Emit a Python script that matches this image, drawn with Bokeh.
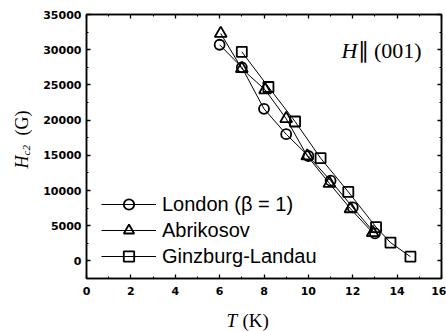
import math
from bokeh.plotting import figure
from bokeh.layouts import column, row
from bokeh.models import (Range1d, LinearAxis, SingleIntervalTicker, Label, Legend,
                          CustomJSTickFormatter)
from bokeh.embed import file_html
from bokeh.resources import INLINE

# Data
london_T = [6.0, 7.0, 8.0, 9.0, 10.0, 11.0, 12.0, 13.0]
london_H = [30700, 27500, 21600, 18000, 14900, 11400, 7600, 3900]

abrikosov_T = [6.05, 7.0, 8.05, 9.0, 9.95, 10.95, 11.9, 12.9]
abrikosov_H = [32300, 27300, 24300, 20200, 14900, 11000, 7400, 4000]

gl_T = [7.0, 8.2, 9.4, 10.55, 11.8, 13.05, 13.7, 14.6]
gl_H = [29700, 24700, 19800, 14600, 9800, 4800, 2600, 600]

x_ticks_interval = 2
y_ticks_interval = 5000

TICK_FONT = "DejaVu Sans"
SERIF = "Liberation Serif"
SANS = "Liberation Sans"

# ---------------- main plot ----------------
p = figure(width=406, height=301, output_backend="svg", toolbar_location=None,
           x_range=Range1d(0, 16), y_range=Range1d(-2500, 35000),
           min_border_left=46, min_border_right=5, min_border_top=14, min_border_bottom=23)
p.xgrid.visible = False
p.ygrid.visible = False
p.outline_line_color = "black"
p.outline_line_width = 1.5
p.background_fill_color = "white"
p.border_fill_color = "white"

xt = SingleIntervalTicker(interval=x_ticks_interval, num_minor_ticks=2)
yt = SingleIntervalTicker(interval=y_ticks_interval, num_minor_ticks=2)
p.xaxis.ticker = xt
p.yaxis.ticker = yt

for ax in (p.xaxis[0], p.yaxis[0]):
    ax.axis_line_width = 1.5
    ax.major_tick_in = 4
    ax.major_tick_out = 0
    ax.minor_tick_in = 2
    ax.minor_tick_out = 0
    ax.major_tick_line_width = 1.3
    ax.minor_tick_line_width = 1.0
    ax.major_label_text_font = TICK_FONT
    ax.major_label_text_font_style = "bold"
    ax.major_label_text_font_size = "11px"
    ax.major_label_text_color = "black"
p.xaxis.major_label_standoff = 8
p.yaxis.major_label_standoff = 5

blank = CustomJSTickFormatter(code="return ''")
for loc, tk in (("above", xt), ("right", yt)):
    ax = LinearAxis(ticker=tk, formatter=blank, major_label_text_font_size="1px",
                    major_label_standoff=0,
                    major_tick_in=4, major_tick_out=0, minor_tick_in=2, minor_tick_out=0,
                    axis_line_width=1.5, major_tick_line_width=1.3)
    p.add_layout(ax, loc)

series = [
    ("London (β = 1)", london_T, london_H, "circle", 10),
    ("Abrikosov", abrikosov_T, abrikosov_H, "triangle", 12),
    ("Ginzburg-Landau", gl_T, gl_H, "square", 10),
]
items = []
for name, xs, ys, marker, size in series:
    l = p.line(xs, ys, line_color="black", line_width=1)
    s = p.scatter(xs, ys, marker=marker, size=size, fill_color=None,
                  line_color="black", line_width=1.8)
    items.append((name, [l, s]))

legend = Legend(items=items, location=(15, 9), padding=0, margin=0, spacing=0,
                glyph_height=26, label_height=26, glyph_width=55, label_standoff=6,
                background_fill_alpha=0, border_line_alpha=0,
                label_text_font=SANS, label_text_font_size="20px",
                label_text_color="black")
p.add_layout(legend)


def lab(x, y, text, size, italic=False, angle=0.0):
    return Label(x=x, y=y, x_units="screen", y_units="screen", text=text,
                 angle=angle, text_font=SERIF, text_color="black",
                 text_font_style="italic" if italic else "normal",
                 text_font_size=size, text_baseline="alphabetic", text_align="left")


# annotation H || (001)
p.add_layout(lab(255, 228, "H", "22px", True))
p.add_layout(lab(271, 228, "∥ (001)", "22px"))


def blank_fig(w, h):
    f = figure(width=w, height=h, output_backend="svg", toolbar_location=None,
               x_range=Range1d(0, 1), y_range=Range1d(0, 1),
               x_axis_type=None, y_axis_type=None, min_border=0)
    f.xgrid.visible = False
    f.ygrid.visible = False
    f.outline_line_color = None
    f.background_fill_color = "white"
    f.border_fill_color = "white"
    return f


# ---------------- y axis label strip: H_c2 (G) ----------------
fy = blank_fig(40, 301)
fy.add_layout(lab(21, 110, "H", "18px", True, math.pi / 2))
fy.add_layout(lab(25, 123, "c2", "11px", True, math.pi / 2))
fy.add_layout(lab(21, 143, "(G)", "18px", False, math.pi / 2))

# ---------------- x axis label strip: T (K) ----------------
fx = blank_fig(446, 30)
fx.add_layout(lab(226, 11, "T", "19px", True))
fx.add_layout(lab(242, 11, "(K)", "19px"))

layout = column(row(fy, p, spacing=0), fx, spacing=0)

open("out.html", "w").write(file_html(layout, INLINE))
